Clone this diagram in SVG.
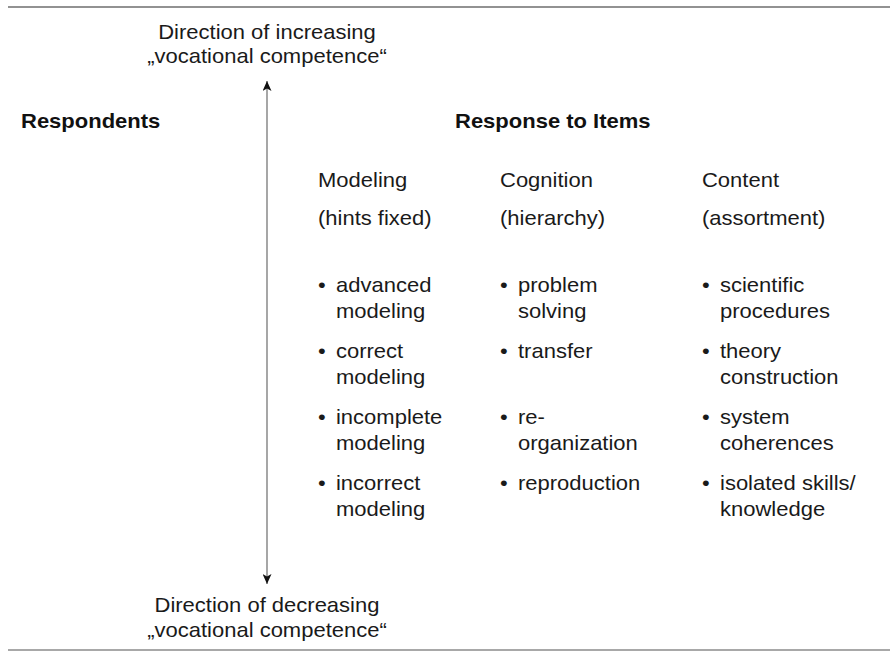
<svg xmlns="http://www.w3.org/2000/svg" width="890" height="654" viewBox="0 0 890 654">
  <style>
    text { font-family: "Liberation Sans", Arial, sans-serif; font-size: 20px; fill: #1a1a1a; }
    .bold { font-weight: bold; fill: #111; }
    .mid { text-anchor: middle; }
    .rule-top { stroke: #6e6e6e; stroke-width: 1.5; }
    .rule-bottom { stroke: #a8a8a8; stroke-width: 2; }
    .axis { stroke: #777; stroke-width: 1.3; fill: none; }
  </style>
  <defs>
    <marker id="head" viewBox="0 0 10 9" refX="10" refY="4.5" markerWidth="10" markerHeight="9" markerUnits="userSpaceOnUse" orient="auto-start-reverse">
      <path d="M0,0 L10,4.5 L0,9 L2.5,4.5 Z" fill="#111"/>
    </marker>
  </defs>
  <rect width="890" height="654" fill="#ffffff"/>

  <g id="connectors">
    <line class="rule-top" x1="8" y1="7" x2="890" y2="7"/>
    <line class="rule-bottom" x1="8" y1="650" x2="890" y2="650"/>
    <line class="axis" x1="267" y1="584" x2="267" y2="81" marker-start="url(#head)" marker-end="url(#head)"/>
  </g>

  <g transform="scale(1.1,1)">
    <g id="top-label">
      <text class="mid" x="242.73" y="39">Direction of increasing</text>
      <text class="mid" x="242.73" y="63">„vocational competence“</text>
    </g>
    <g id="bottom-label">
      <text class="mid" x="242.73" y="612">Direction of decreasing</text>
      <text class="mid" x="242.73" y="637">„vocational competence“</text>
    </g>
    <g id="respondents">
      <text class="bold" x="19.09" y="128">Respondents</text>
    </g>
    <g id="response-to-items">
      <text class="bold" x="413.64" y="128">Response to Items</text>
    </g>
    <g id="col-modeling">
      <text x="289.09" y="187">Modeling</text>
      <text x="289.09" y="225">(hints fixed)</text>
      <text x="289.09" y="292">•</text><text x="305.45" y="292">advanced</text>
      <text x="305.45" y="318">modeling</text>
      <text x="289.09" y="358">•</text><text x="305.45" y="358">correct</text>
      <text x="305.45" y="384">modeling</text>
      <text x="289.09" y="424">•</text><text x="305.45" y="424">incomplete</text>
      <text x="305.45" y="450">modeling</text>
      <text x="289.09" y="490">•</text><text x="305.45" y="490">incorrect</text>
      <text x="305.45" y="516">modeling</text>
    </g>
    <g id="col-cognition">
      <text x="454.55" y="187">Cognition</text>
      <text x="454.55" y="225">(hierarchy)</text>
      <text x="454.55" y="292">•</text><text x="470.91" y="292">problem</text>
      <text x="470.91" y="318">solving</text>
      <text x="454.55" y="358">•</text><text x="470.91" y="358">transfer</text>
      <text x="454.55" y="424">•</text><text x="470.91" y="424">re-</text>
      <text x="470.91" y="450">organization</text>
      <text x="454.55" y="490">•</text><text x="470.91" y="490">reproduction</text>
    </g>
    <g id="col-content">
      <text x="638.18" y="187">Content</text>
      <text x="638.18" y="225">(assortment)</text>
      <text x="638.18" y="292">•</text><text x="654.55" y="292">scientific</text>
      <text x="654.55" y="318">procedures</text>
      <text x="638.18" y="358">•</text><text x="654.55" y="358">theory</text>
      <text x="654.55" y="384">construction</text>
      <text x="638.18" y="424">•</text><text x="654.55" y="424">system</text>
      <text x="654.55" y="450">coherences</text>
      <text x="638.18" y="490">•</text><text x="654.55" y="490">isolated skills/</text>
      <text x="654.55" y="516">knowledge</text>
    </g>
  </g>
</svg>
